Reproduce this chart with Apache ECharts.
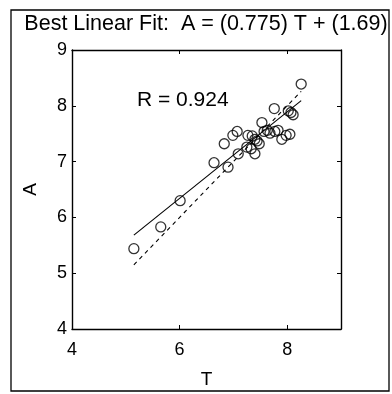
<!DOCTYPE html>
<html>
<head>
<meta charset="utf-8">
<script src="https://cdn.jsdelivr.net/npm/echarts@6/dist/echarts.min.js"></script>
<style>
  html, body { margin: 0; padding: 0; background: #fff; }
  #chart { width: 392px; height: 394px; }
</style>
</head>
<body>
<div id="chart"></div>
<script>
// Targets (T) and network outputs (A)
const targetT = [5.15, 5.65, 6.01, 6.64, 6.90, 6.83, 6.99, 7.07, 7.09, 7.27, 7.35, 7.40,
                 7.25, 7.33, 7.40, 7.44, 7.48, 7.53, 7.57, 7.63, 7.68, 7.77, 7.83, 7.90,
                 7.98, 8.05, 7.76, 8.02, 8.07, 8.11, 8.26];
const outputA = [5.44, 5.83, 6.30, 6.98, 6.90, 7.32, 7.47, 7.54, 7.14, 7.47, 7.46, 7.40,
                 7.26, 7.23, 7.14, 7.37, 7.32, 7.70, 7.54, 7.56, 7.51, 7.54, 7.56, 7.40,
                 7.47, 7.49, 7.95, 7.91, 7.88, 7.84, 8.39];

// Regression results
const fitSlope = 0.775;
const fitIntercept = 1.69;
const corrR = 0.924;

// Axis tick values
const xTicks = [4, 6, 8];
const yTicks = [4, 5, 6, 7, 8, 9];

const font = '"Liberation Sans", Arial, sans-serif';

const points = targetT.map((t, i) => [t, outputA[i]]);
const tMin = Math.min(...targetT);
const tMax = Math.max(...targetT);
const identityLine = [[tMin, tMin], [tMax, tMax]];
const fitLine = [[tMin, fitSlope * tMin + fitIntercept], [tMax, fitSlope * tMax + fitIntercept]];

const chart = echarts.init(document.getElementById('chart'), null, { renderer: 'canvas' });

const axisLineStyle = { show: true, lineStyle: { color: '#000', width: 1.4 } };
const tickStyle = { show: true, inside: true, length: 4, lineStyle: { color: '#000', width: 1 } };

chart.setOption({
  animation: false,
  backgroundColor: '#fff',
  grid: { left: 72, top: 50, right: 51, bottom: 59, containLabel: false },
  xAxis: [
    {
      type: 'value', min: 4, max: 9, position: 'bottom',
      axisLine: axisLineStyle,
      axisTick: Object.assign({ customValues: xTicks }, tickStyle),
      axisLabel: { customValues: xTicks, color: '#000', fontFamily: font, fontSize: 18, margin: 12 },
      splitLine: { show: false },
      name: 'T', nameLocation: 'middle', nameGap: 41,
      nameTextStyle: { color: '#000', fontFamily: font, fontSize: 19 }
    },
    {
      type: 'value', min: 4, max: 9, position: 'top',
      axisLine: axisLineStyle,
      axisTick: Object.assign({ customValues: xTicks }, tickStyle),
      axisLabel: { show: false },
      splitLine: { show: false }
    }
  ],
  yAxis: [
    {
      type: 'value', min: 4, max: 9, position: 'left',
      axisLine: axisLineStyle,
      axisTick: Object.assign({ customValues: yTicks }, tickStyle),
      axisLabel: { customValues: yTicks, color: '#000', fontFamily: font, fontSize: 18, margin: 5 },
      splitLine: { show: false },
      name: 'A', nameLocation: 'middle', nameGap: 32, nameRotate: 90,
      nameTextStyle: { color: '#000', fontFamily: font, fontSize: 19 }
    },
    {
      type: 'value', min: 4, max: 9, position: 'right',
      axisLine: axisLineStyle,
      axisTick: Object.assign({ customValues: yTicks }, tickStyle),
      axisLabel: { show: false },
      splitLine: { show: false }
    }
  ],
  series: [
    {
      type: 'line', data: identityLine, symbol: 'none',
      lineStyle: { color: '#000', width: 1.1, type: [4, 4] }, z: 2
    },
    {
      type: 'line', data: fitLine, symbol: 'none',
      lineStyle: { color: '#000', width: 1.1 }, z: 2
    },
    {
      type: 'scatter', data: points, symbol: 'circle', symbolSize: 10,
      itemStyle: { color: 'rgba(255,255,255,0)', borderColor: '#000', borderWidth: 1.3 }, z: 3
    }
  ],
  graphic: [
    {
      type: 'rect', shape: { x: 11, y: 10, width: 378, height: 381 },
      style: { fill: null, stroke: '#000', lineWidth: 1.3 }, silent: true
    },
    {
      type: 'text', x: 206, y: 24,
      style: {
        text: 'Best Linear Fit:  A = (' + fitSlope + ') T + (' + fitIntercept + ')',
        fill: '#000', font: '21.5px ' + font, textAlign: 'center', textVerticalAlign: 'middle'
      }
    },
    {
      type: 'text', x: 137, y: 100,
      style: {
        text: 'R = ' + corrR, fill: '#000', font: '21px ' + font,
        textAlign: 'left', textVerticalAlign: 'middle'
      }
    }
  ]
});
</script>
</body>
</html>
